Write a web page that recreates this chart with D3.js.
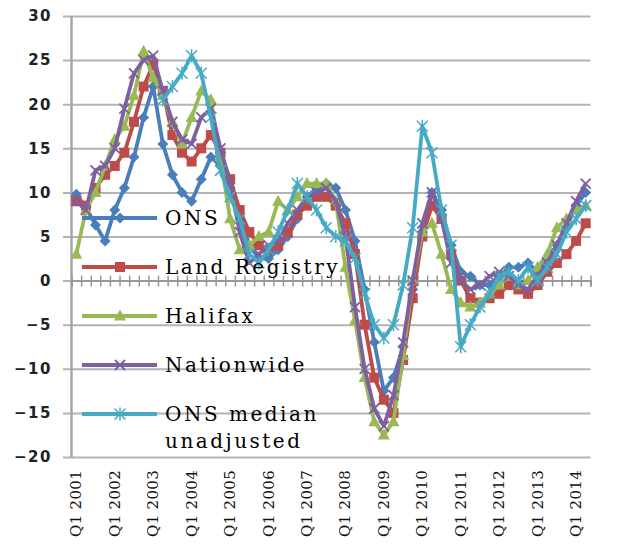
<!DOCTYPE html>
<html>
<head>
<meta charset="utf-8">
<script src="https://cdn.jsdelivr.net/npm/d3@7"></script>
<style>
  body { margin: 0; background: #fff; }
</style>
</head>
<body>
<svg id="plot"></svg>
<script>
// Data
const years = [2001, 2002, 2003, 2004, 2005, 2006, 2007, 2008, 2009, 2010, 2011, 2012, 2013, 2014];
const quarters = [];
years.forEach(function(y) {
  ['Q1', 'Q2', 'Q3', 'Q4'].forEach(function(q) { quarters.push(q + ' ' + y); });
});
const categories = quarters.slice(0, 54);   // Q1 2001 .. Q2 2014

const yTicks = [-20, -15, -10, -5, 0, 5, 10, 15, 20, 25, 30];

const ons = [9.8, 8.3, 6.3, 4.5, 8, 10.5, 14, 18.5, 22, 15.5, 12, 10, 9, 11.5, 14, 13, 11, 7.5, 4, 2.5,
  2.5, 3.5, 5, 7, 9.5, 10.5, 11, 10.5, 8, 4.5, -1, -7, -12.5, -11, -7.5, -1, 5.5, 10, 8, 4,
  1, 0.5, -0.5, -0.5, 0.5, 1.5, 1.5, 2, 1, 2.5, 4, 6, 8.5, 10];

const landRegistry = [9, 8.5, 10.5, 12, 13, 14.5, 18, 22, 24.5, 21.5, 16.5, 14.5, 13.5, 15, 16.5, 14.5, 11.5, 8, 5.5, 4,
  3.5, 4, 5.5, 7.5, 8.5, 9.5, 9.5, 8.5, 6.5, 3, -5, -11, -13.5, -15, -9, -2, 5, 8.5, 7, 3,
  0, -2, -2.5, -2, -1.5, -0.5, -1, -1.5, -0.5, 1, 2, 3, 4.5, 6.5];

const halifax = [3, 8, 10, 13, 16, 17.5, 21, 26, 23, 21, 18, 15.5, 18.5, 21.5, 20.5, 14, 7, 3.5, 4, 5,
  5.5, 9, 8, 9.5, 11, 11, 11, 9, 1.5, -4.5, -11, -16, -17.5, -16, -8.5, 0, 5.5, 6.5, 3, -1,
  -2.5, -3, -2.5, -1.5, -0.5, 0.5, -0.5, 0, 1.5, 3, 6, 7, 8, 8.5];

const nationwide = [9, 8, 12.5, 13, 15, 19.5, 23.5, 25, 25.5, 21.5, 18, 16, 15.5, 18.5, 19.5, 15, 11, 5.5, 2, 3,
  4, 4.5, 6.5, 8, 9.5, 10, 10.5, 9, 5, -3, -10, -14.5, -16.5, -13, -7, 0, 6.5, 10, 7, 2,
  0, -1, -0.5, 0.5, 1, 0.5, -0.5, -1, 0.5, 2, 4, 6.5, 9, 11];

const onsMedian = [null, null, null, null, null, null, null, null, null, 20.5, 22, 23.5, 25.5, 23.5, 18.5, 12.5, 9.5, 7, 3, 2,
  3.5, 5.5, 8, 11, 9.5, 8, 6, 5, 4.5, 2.5, -1.5, -5, -6.5, -5, -0.5, 6, 17.5, 14.5, 8, 4,
  -7.5, -5, -3, -1.5, 0.5, 1, 0, 1.5, 0, 1.5, 3, 5.5, 7, 8.5];

const seriesNames = ['ONS', 'Land Registry', 'Halifax', 'Nationwide', 'ONS median unadjusted'];
const seriesValues = [ons, landRegistry, halifax, nationwide, onsMedian];
const seriesColors = ['#4a7ebb', '#be4b48', '#98b954', '#7d60a0', '#46aac5'];
const seriesMarkers = ['diamond', 'square', 'triangle', 'cross', 'asterisk'];

let width = 623, height = 544;
let plotLeft = 71.5, plotRight = 590.5, plotTop = 16, plotBottom = 457;

let svg = d3.select('#plot')
  .attr('width', width)
  .attr('height', height)
  .style('background', 'white');

let xScale = d3.scaleBand()
  .domain(categories)
  .range([plotLeft, plotRight])
  .padding(0);

let yScale = d3.scaleLinear()
  .domain([-20, 30])
  .range([plotBottom, plotTop]);

let cx = d => xScale(d) + xScale.bandwidth() / 2;

// gridlines + y labels
let yAxis = svg.append('g')
  .attr('transform', `translate(${plotRight}, 0)`)
  .call(d3.axisLeft(yScale).tickValues(yTicks).tickSize(plotRight - 63).tickPadding(11));
yAxis.select('.domain').remove();
yAxis.selectAll('line').attr('stroke', '#b3b3b3').attr('stroke-width', 2);
yAxis.selectAll('text')
  .attr('fill', '#222')
  .style('font-family', 'DejaVu Sans')
  .style('font-weight', 'bold')
  .style('font-size', '15px')
  .style('letter-spacing', '1.5px');

// vertical axis line
svg.append('line')
  .attr('x1', plotLeft).attr('x2', plotLeft)
  .attr('y1', yScale(30)).attr('y2', yScale(-20))
  .attr('stroke', '#a6a6a6').attr('stroke-width', 2.5);

// category axis at zero with crossing ticks
let xb = d3.scaleLinear().domain([0, categories.length]).range([plotLeft, plotRight]);
let xAxis = svg.append('g')
  .attr('transform', `translate(0, ${yScale(0)})`)
  .call(d3.axisBottom(xb).tickValues(d3.range(categories.length + 1)).tickFormat(''));
xAxis.select('.domain').attr('stroke', '#999').attr('stroke-width', 2);
xAxis.selectAll('.tick line')
  .attr('y1', -5).attr('y2', 6)
  .attr('stroke', '#999').attr('stroke-width', 1.5);

// category labels (every 4th)
svg.append('g').selectAll('text')
  .data(categories.filter((d, i) => i % 4 === 0))
  .enter()
  .append('text')
  .attr('transform', d => `translate(${cx(d) + 5}, 470) rotate(-90)`)
  .attr('text-anchor', 'end')
  .attr('fill', '#111')
  .style('font-family', 'DejaVu Serif')
  .style('font-size', '15px')
  .style('letter-spacing', '0.3px')
  .text(d => d);

// marker drawing
function marker(g, type, x, y, color) {
  if (type === 'diamond') {
    g.append('path').attr('d', `M${x},${y - 5.5}L${x + 5.5},${y}L${x},${y + 5.5}L${x - 5.5},${y}Z`).attr('fill', color);
  } else if (type === 'square') {
    g.append('rect').attr('x', x - 5).attr('y', y - 5).attr('width', 10).attr('height', 10).attr('fill', color);
  } else if (type === 'triangle') {
    g.append('path').attr('d', `M${x},${y - 6.5}L${x + 6},${y + 4.5}L${x - 6},${y + 4.5}Z`).attr('fill', color);
  } else if (type === 'cross') {
    g.append('path').attr('d', `M${x - 5},${y - 5}L${x + 5},${y + 5}M${x - 5},${y + 5}L${x + 5},${y - 5}`)
      .attr('stroke', color).attr('stroke-width', 1.8);
  } else {
    g.append('path').attr('d', `M${x - 5.5},${y - 5.5}L${x + 5.5},${y + 5.5}M${x - 5.5},${y + 5.5}L${x + 5.5},${y - 5.5}M${x},${y - 6.5}L${x},${y + 6.5}`)
      .attr('stroke', color).attr('stroke-width', 1.5);
  }
}

let line = d3.line()
  .defined(d => d.v !== null)
  .x(d => cx(d.c))
  .y(d => yScale(d.v));

seriesValues.forEach(function(vals, s) {
  let pts = categories.map((c, i) => ({ c: c, v: vals[i] }));
  let g = svg.append('g');
  g.append('path')
    .datum(pts)
    .attr('d', line)
    .attr('fill', 'none')
    .attr('stroke', seriesColors[s])
    .attr('stroke-width', 3.8)
    .attr('stroke-linejoin', 'round');
  pts.filter(d => d.v !== null).forEach(function(d) {
    marker(g, seriesMarkers[s], cx(d.c), yScale(d.v), seriesColors[s]);
  });
});

// legend
let legend = svg.append('g');
seriesNames.forEach(function(name, s) {
  let ly = 218 + 49 * s;
  legend.append('line')
    .attr('x1', 82).attr('x2', 157)
    .attr('y1', ly).attr('y2', ly)
    .attr('stroke', seriesColors[s]).attr('stroke-width', 3.8);
  marker(legend, seriesMarkers[s], 120, ly, seriesColors[s]);
  let t = legend.append('text')
    .attr('x', 165).attr('y', ly + 7)
    .attr('fill', '#000')
    .style('font-family', 'DejaVu Serif')
    .style('font-size', '20px')
    .style('letter-spacing', '2.5px');
  if (name === 'ONS median unadjusted') {
    t.text('ONS median');
    legend.append('text')
      .attr('x', 165).attr('y', ly + 34)
      .attr('fill', '#000')
      .style('font-family', 'DejaVu Serif')
      .style('font-size', '20px')
      .style('letter-spacing', '2.5px')
      .text('unadjusted');
  } else {
    t.text(name);
  }
});
</script>
</body>
</html>
